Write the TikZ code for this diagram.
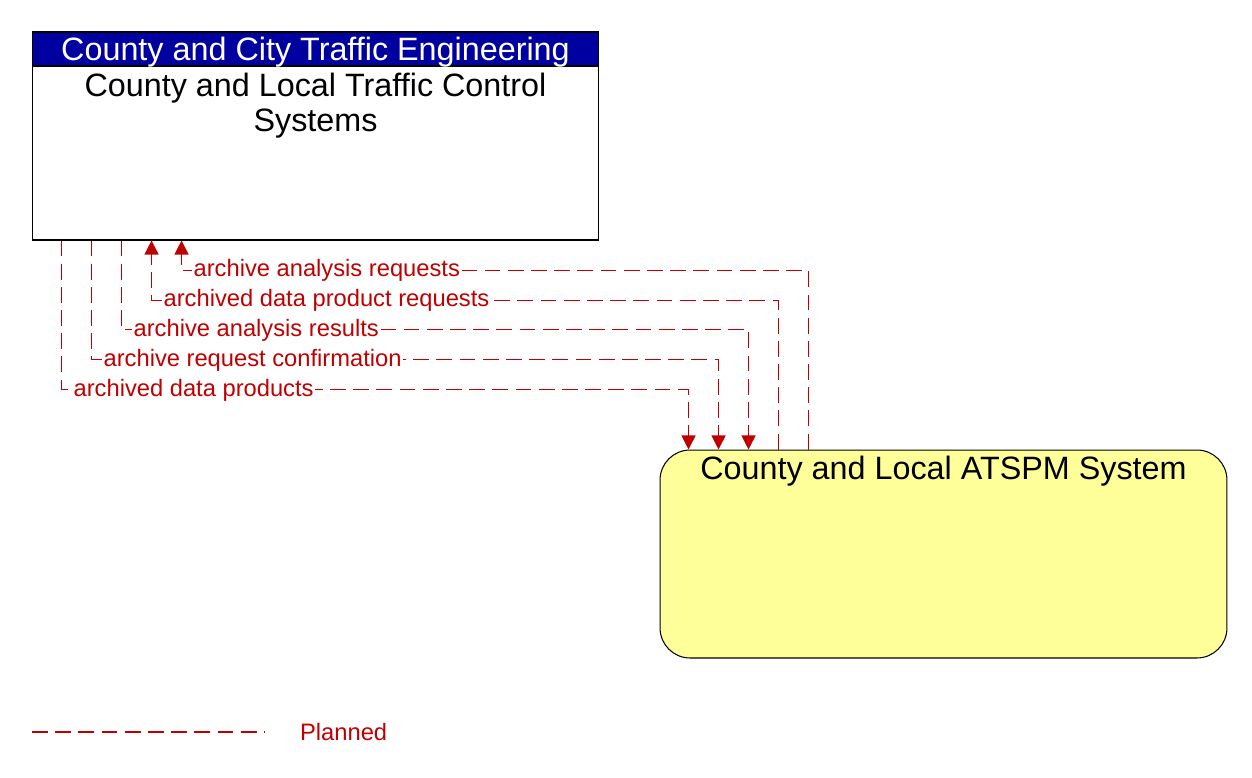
\documentclass[tikz,border=0pt]{standalone}
\usepackage{fontspec}
\setmainfont{Liberation Sans}
\usetikzlibrary{arrows.meta,calc,positioning}
\definecolor{headerblue}{HTML}{0000A0}
\definecolor{flowred}{HTML}{C00000}
\definecolor{softyellow}{HTML}{FFFF99}
\tikzset{
  elembox/.style={draw=black, line width=0.6pt, minimum width=11.34cm, minimum height=4.16cm, inner sep=0pt},
  headerbox/.style={draw=black, line width=0.6pt, fill=headerblue, text=white, minimum width=11.34cm, minimum height=0.68cm, inner sep=0pt, text depth=0.5pt, font=\fontsize{18.4}{20}\selectfont},
  titletext/.style={align=center, font=\fontsize{18.4}{19.8}\selectfont, inner sep=2pt},
  flowline/.style={flowred, line width=0.7pt, dash pattern=on 9pt off 4.2pt},
  flowarrow/.style={flowline, -{Triangle[width=8pt,length=8pt]}},
  flowlabel/.style={text=flowred, fill=white, inner sep=1pt, anchor=west, font=\fontsize{13.5}{15}\selectfont}
}

\begin{document}
\begin{tikzpicture}[x=0.02cm, y=-0.02cm]
  \useasboundingbox (0,0) rectangle (1252,778);
  % elements
  \node[elembox, fill=white] (tcs) at (315.5,136) {};
  \node[headerbox, anchor=north] (tcshead) at (tcs.north) {County and City Traffic Engineering};
  \node[titletext, anchor=north] (tcstitle) at ([yshift=-0.06cm]tcshead.south) {County and Local Traffic Control\\Systems};
  \node[elembox, fill=softyellow, rounded corners=0.6cm] (atspm) at (943.5,554) {};
  \node[titletext, anchor=north] (atspmtitle) at ([yshift=-0.06cm]atspm.north) {County and Local ATSPM System};
  % flows
  \draw[flowarrow] ($(tcs.south west)+(30,0)$) |- ($(atspm.north west)+(29,-60)$) -- ($(atspm.north west)+(29,0)$);
  \draw[flowarrow] ($(tcs.south west)+(60,0)$) |- ($(atspm.north west)+(59,-90)$) -- ($(atspm.north west)+(59,0)$);
  \draw[flowarrow] ($(tcs.south west)+(90,0)$) |- ($(atspm.north west)+(89,-120)$) -- ($(atspm.north west)+(89,0)$);
  \draw[flowarrow] ($(atspm.north west)+(119,0)$) |- ($(tcs.south west)+(120,60)$) -- ($(tcs.south west)+(120,0)$);
  \draw[flowarrow] ($(atspm.north west)+(149,0)$) |- ($(tcs.south west)+(150,30)$) -- ($(tcs.south west)+(150,0)$);
  \node[flowlabel] (lbl1) at ($(tcs.south west)+(40,150)$) {archived data products};
  \node[flowlabel] (lbl2) at ($(tcs.south west)+(70,120)$) {archive request confirmation};
  \node[flowlabel] (lbl3) at ($(tcs.south west)+(100,90)$) {archive analysis results};
  \node[flowlabel] (lbl4) at ($(tcs.south west)+(130,60)$) {archived data product requests};
  \node[flowlabel] (lbl5) at ($(tcs.south west)+(160,30)$) {archive analysis requests};
  % legend
  \coordinate (legstart) at (32,732);
  \coordinate (legend) at (265,732);
  \draw[flowline] (legstart) -- (legend);
  \node[flowlabel, fill=none] (legtext) at (298,732) {Planned};
\end{tikzpicture}
\end{document}
